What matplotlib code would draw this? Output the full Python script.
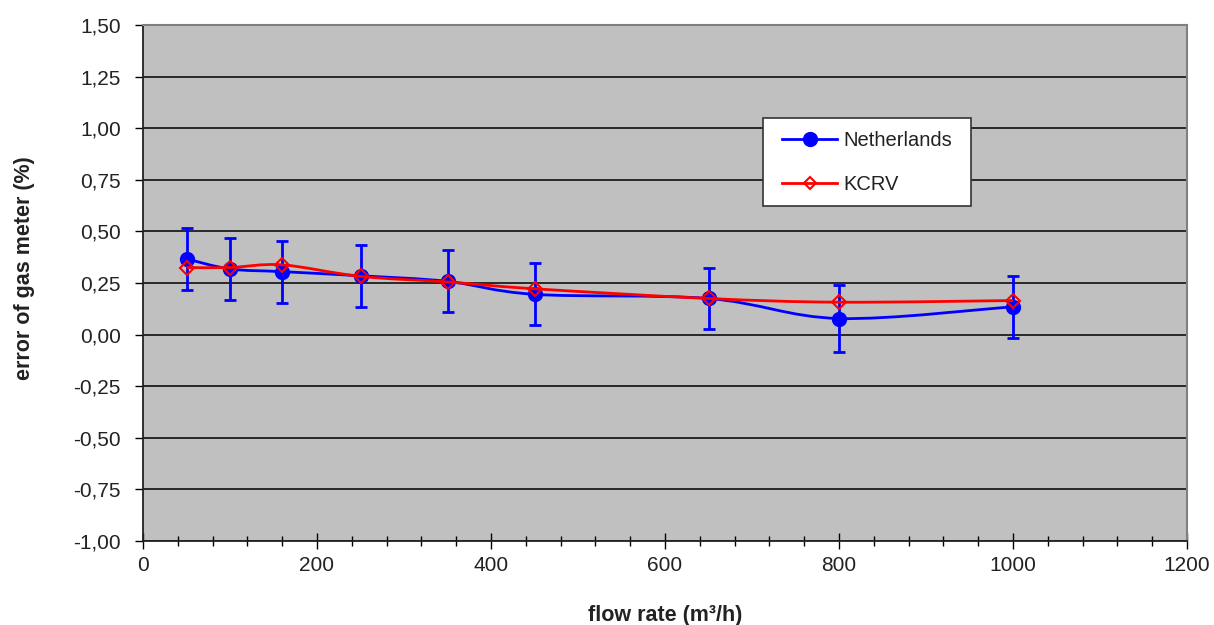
import numpy as np
import matplotlib.pyplot as plt
from matplotlib.path import Path
from matplotlib.patches import PathPatch, Rectangle
from matplotlib.lines import Line2D
from matplotlib.ticker import MultipleLocator, FuncFormatter

plt.rcParams['font.family'] = ['Liberation Sans', 'DejaVu Sans']

# flow rates (m3/h)
flow = [50, 100, 160, 250, 350, 450, 650, 800, 1000]
# errors of gas meter (%)
nl_err = [0.367, 0.318, 0.305, 0.285, 0.258, 0.195, 0.175, 0.078, 0.135]
nl_unc = [0.15, 0.15, 0.15, 0.15, 0.15, 0.15, 0.15, 0.16, 0.15]
kcrv = [0.325, 0.325, 0.338, 0.282, 0.255, 0.222, 0.175, 0.157, 0.165]


def smooth_path(x, y, t=1/6):
    # Excel-like smoothed line: Catmull-Rom as cubic bezier
    x = np.asarray(x, float)
    y = np.asarray(y, float)
    verts = [(x[0], y[0])]
    codes = [Path.MOVETO]
    n = len(x)
    for i in range(n - 1):
        i0 = max(i - 1, 0)
        i3 = min(i + 2, n - 1)
        c1 = (x[i] + (x[i + 1] - x[i0]) * t, y[i] + (y[i + 1] - y[i0]) * t)
        c2 = (x[i + 1] - (x[i3] - x[i]) * t, y[i + 1] - (y[i3] - y[i]) * t)
        verts += [c1, c2, (x[i + 1], y[i + 1])]
        codes += [Path.CURVE4] * 3
    return Path(verts, codes)


W, H = 1214, 625
fig = plt.figure(figsize=(W / 100, H / 100), dpi=100)
ax = fig.add_axes([143/W, 1 - 541/H, 1044/W, 516/H])
ax.set_facecolor('#c0c0c0')

ax.set_xlim(0, 1200)
ax.set_ylim(-1.0, 1.5)
ax.yaxis.set_major_locator(MultipleLocator(0.25))
ax.xaxis.set_major_locator(MultipleLocator(200))
ax.xaxis.set_minor_locator(MultipleLocator(40))
ax.yaxis.set_major_formatter(FuncFormatter(lambda v, p: f'{v:.2f}'.replace('.', ',')))
ax.grid(axis='y', color='black', lw=1.1)
ax.set_axisbelow(True)

for s in ['top', 'right']:
    ax.spines[s].set_color('#808080')
    ax.spines[s].set_linewidth(1.5)
for s in ['left', 'bottom']:
    ax.spines[s].set_color('#222222')
    ax.spines[s].set_linewidth(1.3)

ax.tick_params(axis='y', direction='out', length=6, width=1, labelsize=15, pad=10, labelcolor='#222222')
ax.tick_params(axis='x', which='major', direction='inout', length=11, width=1, labelsize=15, pad=5,
               labelcolor='#222222')
ax.tick_params(axis='x', which='minor', direction='inout', length=7, width=1)

# Netherlands
ax.add_patch(PathPatch(smooth_path(flow, nl_err), fc='none', ec='#0000ff', lw=2, zorder=3))
ax.errorbar(flow, nl_err, yerr=nl_unc, fmt='none', ecolor='#0000ff', elinewidth=2,
            capsize=4, capthick=2, zorder=3)
ax.plot(flow, nl_err, 'o', color='#0000ff', ms=10, ls='none', zorder=4)

# KCRV
ax.add_patch(PathPatch(smooth_path(flow, kcrv), fc='none', ec='#ff0000', lw=2, zorder=5))
ax.plot(flow, kcrv, 'D', mfc='none', mec='#ff0000', mew=1.5, ms=7, ls='none', zorder=6)

# legend box
box = Rectangle((763/W, 1 - 206/H), 208/W, 88/H, transform=fig.transFigure,
                fc='white', ec='#333333', lw=1.2, zorder=7, clip_on=False)
ax.add_patch(box)
handles = [
    Line2D([], [], color='#0000ff', lw=2, marker='o', ms=10),
    Line2D([], [], color='#ff0000', lw=2, marker='D', ms=6, mfc='none', mew=1.5),
]
leg = ax.legend(handles, ['Netherlands', 'KCRV'], loc='upper left',
                bbox_to_anchor=(782/W, 1 - 131/H), bbox_transform=fig.transFigure,
                borderaxespad=0, borderpad=0, prop={'size': 14.5}, frameon=False,
                handlelength=2.75, handletextpad=0.28, labelspacing=1.25)
leg.set_zorder(8)
for t in leg.get_texts():
    t.set_color('#222222')

ax.set_xlabel('flow rate (m³/h)', fontsize=15.5, fontweight='bold', color='#222222')
ax.set_ylabel('error of gas meter (%)', fontsize=15.5, fontweight='bold', color='#222222')
ax.xaxis.set_label_coords(0.5, -(605 - 541) / 516)
ax.yaxis.set_label_coords((35 - 143) / 1044, 0.5 + (283 - 268) / 516)

fig.savefig('out.png', dpi=100)
